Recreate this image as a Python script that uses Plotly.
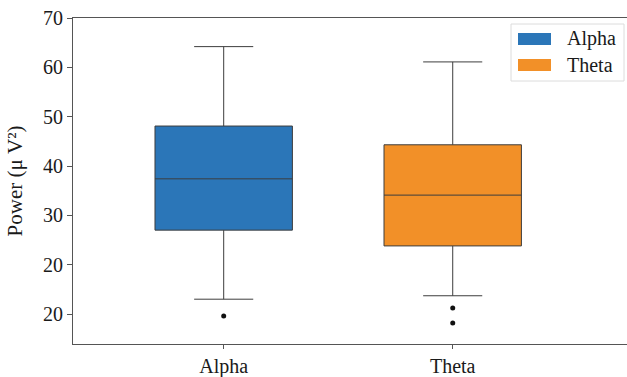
import plotly.graph_objects as go

# Band-power summary statistics per frequency band
bands = ["Alpha", "Theta"]
colors = ["#2b76b8", "#f29028"]
q1 = [27.0, 23.8]
median = [37.4, 34.1]
q3 = [48.1, 44.3]
lower_whisker = [13.0, 13.7]
upper_whisker = [64.2, 61.1]
outlier_band = ["Alpha", "Theta", "Theta"]
outlier_value = [9.6, 11.2, 8.2]

# y tick labels as printed on the axis
y_tickvals = [10, 20, 30, 40, 50, 60, 70]
y_ticktext = ["20", "20", "30", "40", "50", "60", "70"]

FONT = "Liberation Serif"
W, H = 627, 377
L, R, T, B = 73, 0, 18, 33

fig = go.Figure()
for i, band in enumerate(bands):
    fig.add_trace(go.Box(
        x=[band], q1=[q1[i]], median=[median[i]], q3=[q3[i]],
        lowerfence=[lower_whisker[i]], upperfence=[upper_whisker[i]],
        fillcolor=colors[i], line=dict(color="#3d3d3d", width=1),
        width=0.6, whiskerwidth=0.43, boxpoints=False,
        name=band, showlegend=False, hoverinfo="skip",
    ))

fig.add_trace(go.Scatter(
    x=outlier_band, y=outlier_value, mode="markers",
    marker=dict(color="#111111", size=5), showlegend=False, hoverinfo="skip",
))

# legend drawn in paper coordinates
pw, ph = W - L - R, H - T - B
def px(x):
    return (x - L) / pw
def py(y):
    return (H - B - y) / ph

shapes = [dict(type="rect", xref="paper", yref="paper",
               x0=px(511), x1=px(624), y0=py(81), y1=py(24),
               line=dict(color="#dcdcdc", width=1), fillcolor="rgba(255,255,255,0.85)")]
annotations = []
for i, band in enumerate(bands):
    top = 33 + i * 26
    shapes.append(dict(type="rect", xref="paper", yref="paper",
                       x0=px(518), x1=px(551), y0=py(top + 12), y1=py(top),
                       line=dict(width=0), fillcolor=colors[i]))
    annotations.append(dict(xref="paper", yref="paper", x=px(565), y=py(top + 6),
                            text=band, showarrow=False, xanchor="left", yanchor="middle",
                            font=dict(family=FONT, size=20, color="#1a1a1a")))

fig.update_layout(
    width=W, height=H, margin=dict(l=L, r=R, t=T, b=B),
    paper_bgcolor="white", plot_bgcolor="white",
    font=dict(family=FONT, size=20, color="#1a1a1a"),
    shapes=shapes, annotations=annotations, showlegend=False,
)
fig.update_xaxes(
    type="category", categoryorder="array", categoryarray=bands,
    range=[-0.658, 1.761], showgrid=False, zeroline=False,
    showline=True, mirror=True, linecolor="#555555", linewidth=1,
    ticks="outside", ticklen=4, tickcolor="#555555",
    tickfont=dict(family=FONT, size=20),
)
fig.update_yaxes(
    range=[3.92, 70], tickvals=y_tickvals, ticktext=y_ticktext,
    showgrid=False, zeroline=False,
    showline=True, linecolor="#555555", linewidth=1,
    ticks="outside", ticklen=5, tickcolor="#555555",
    tickfont=dict(family=FONT, size=20),
    title=dict(text="Power (μ V²)", font=dict(family=FONT, size=21), standoff=14),
)

fig.write_html("out.html")
